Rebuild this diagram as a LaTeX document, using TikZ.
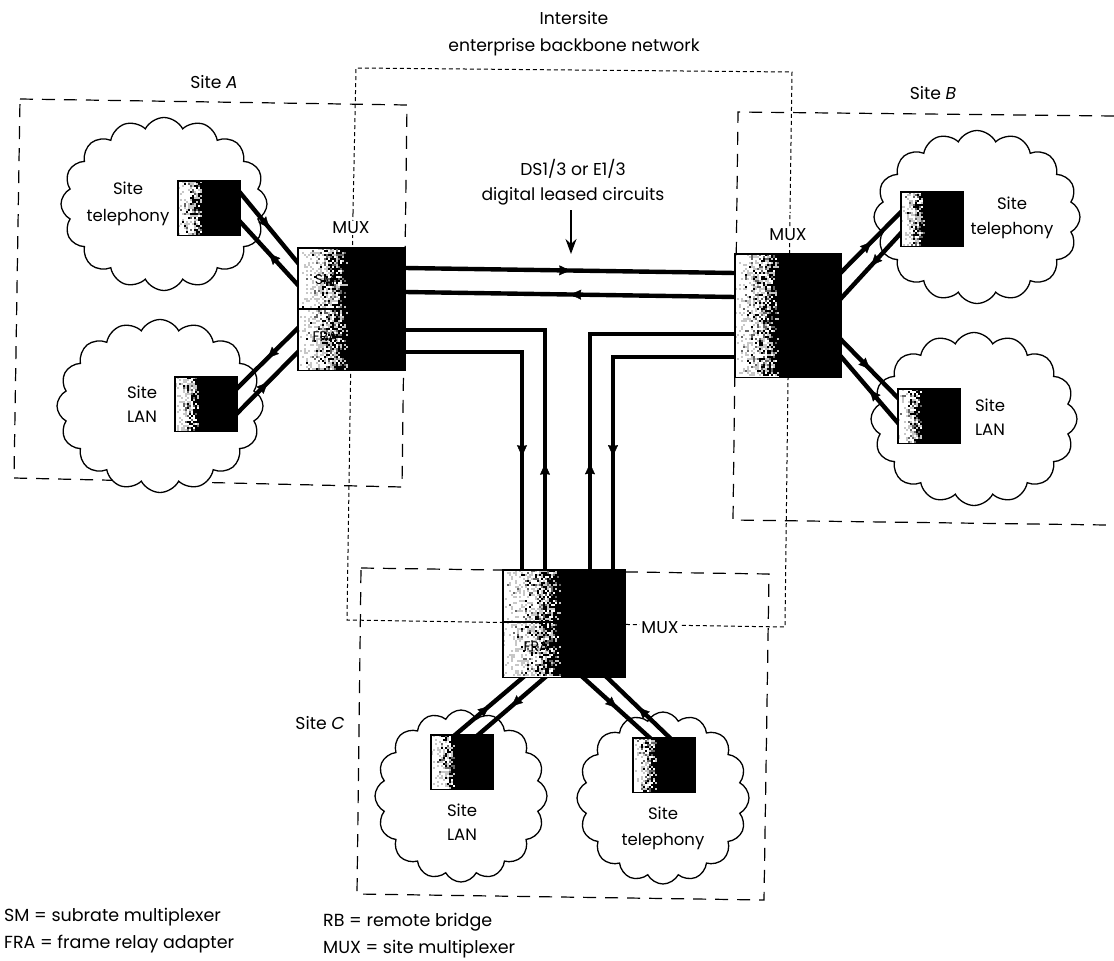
\documentclass[tikz,border=0pt]{standalone}
\usepackage{fontspec}
\setmainfont{Poppins}
\usetikzlibrary{shapes.symbols,decorations.markings,arrows.meta,calc}
\pgfdeclarelayer{under}
\pgfdeclarelayer{links}
\pgfsetlayers{under,links,main}
\tikzset{
  sitebox/.style={draw=black,line width=1.2pt,dash pattern=on 13pt off 9pt},
  netbox/.style={draw=black,line width=1pt,dash pattern=on 4pt off 3pt},
  cloudnode/.style={cloud,draw=black,line width=1.3pt,fill=white,cloud puffs=16,cloud puff arc=125,aspect=1.19,inner sep=0pt},
  smallbox/.style={fill=black,anchor=north west,inner sep=0pt,minimum width=62pt,minimum height=54pt},
  muxbox/.style={fill=black,anchor=north west,inner sep=0pt},
  lbl/.style={font=\fontsize{17.2}{25}\selectfont,align=center,inner sep=1pt},
  cloudlbl/.style={font=\fontsize{16.5}{24}\selectfont,align=center,inner sep=1pt},
  muxlbl/.style={lbl,fill=white},
  inlbl/.style={font=\fontsize{14}{16}\selectfont,inner sep=0pt,text=black},
  legendlbl/.style={font=\fontsize{17.5}{27}\selectfont,align=left,inner sep=0pt,anchor=west},
  link/.style={line width=4.4pt,draw=black,line cap=butt,line join=miter,shorten <=-3pt,shorten >=-3pt},
  fwd/.style={link,postaction={decorate},decoration={markings,mark=at position #1 with {\arrow[line width=0.4pt]{Stealth[length=11pt,width=10pt,inset=1pt]}}}},
  fwd/.default=0.5
}
% speckled light-to-dark face of a box: node, width of the light part, height
\newcommand{\speckle}[3]{%
  \begin{scope}[shift={(#1.north west)}]
    \fill[white] (0,0) rectangle (#2,#3);
    \pgfmathtruncatemacro{\nx}{#2/2}
    \pgfmathtruncatemacro{\ny}{#3/2-1}
    \foreach \i in {0,...,\nx}{
      \pgfmathsetmacro{\tt}{(\i/\nx)}
      \foreach \j in {0,...,\ny}{
        \pgfmathsetmacro{\rr}{rnd}
        \pgfmathtruncatemacro{\vv}{\rr<\tt*\tt*\tt ? 100 : (\rr<\tt*\tt ? 60 : (\rr<\tt+0.06 ? 22 : 0))}
        \ifnum\vv>0
          \fill[black!\vv] (2*\i,2*\j) rectangle +(2,2);
        \fi
      }
    }
  \end{scope}
  \draw[line width=1.6pt] (#1.north west) rectangle (#1.south east);
}
\begin{document}
\begin{tikzpicture}[x=1pt,y=-1pt]
\pgfmathsetseed{4242}
\useasboundingbox (0,0) rectangle (1114,961);
\begin{pgfonlayer}{under}
\fill[white] (0,0) rectangle (1114,961);
% backbone
\draw[netbox] (353,213) -- (356,68) -- (792,72) -- (790,213);
\draw[netbox] (353,213) -- (347,620) -- (785,627) -- (790,213);
% sites
\draw[sitebox] (20,99) -- (407,105) -- (402,487) -- (14,478) -- cycle;
\draw[sitebox] (1114,116) -- (738,112) -- (733,520) -- (1107,525);
\draw[sitebox] (361,568) -- (769,574) -- (764,900) -- (357,894) -- cycle;
% clouds
\node[cloudnode,minimum width=206pt,minimum height=173pt] (cat) at (164,204) {};
\node[cloudnode,minimum width=206pt,minimum height=173pt] (cal) at (160,406) {};
\node[cloudnode,minimum width=206pt,minimum height=173pt] (cbt) at (977,217) {};
\node[cloudnode,minimum width=206pt,minimum height=173pt] (cbl) at (974,419) {};
\node[cloudnode,aspect=1,minimum width=172pt,minimum height=172pt] (ccl) at (461,796) {};
\node[cloudnode,aspect=1,minimum width=172pt,minimum height=172pt] (cct) at (663,798) {};
\end{pgfonlayer}
% boxes
\node[smallbox] (at) at (178,181) {};
\node[smallbox] (al) at (175,377) {};
\node[smallbox] (bt) at (901,192) {};
\node[smallbox] (bl) at (898,389) {};
\node[smallbox] (cl) at (431,735) {};
\node[smallbox] (ct) at (633,738) {};
\node[muxbox,minimum width=107pt,minimum height=122pt] (ma) at (298,248) {};
\node[muxbox,minimum width=106pt,minimum height=123pt] (mb) at (735,254) {};
\node[muxbox,minimum width=122pt,minimum height=107pt] (mc) at (503,570) {};
\speckle{at}{24}{54}
\speckle{al}{24}{54}
\speckle{bt}{24}{54}
\speckle{bl}{24}{54}
\speckle{cl}{24}{54}
\speckle{ct}{24}{54}
\speckle{ma}{50}{122}
\speckle{mb}{44}{123}
\speckle{mc}{58}{107}
\draw[line width=1.4pt] (ma.west |- 0,309) -- (ma.center |- 0,309);
\draw[line width=1.4pt] (mc.west |- 0,622) -- (mc.center |- 0,622);
\node[inlbl] (tsm) at (325,280) {SM};
\node[inlbl] (tfa) at (325,337) {FRA};
\node[inlbl] (tfc) at (536,647) {FRA};
\begin{pgfonlayer}{links}
% site A
\draw[fwd] ([yshift=-12pt]at.north east) -- ([yshift=-15pt]ma.north west);
\draw[fwd] ([yshift=-37pt]ma.north west) -- ([yshift=-41pt]at.north east);
\draw[fwd] ([yshift=-80pt]ma.north west) -- ([yshift=-11pt]al.north east);
\draw[fwd] ([yshift=-36pt]al.north east) -- ([yshift=-104pt]ma.north west);
% site B
\draw[fwd] ([yshift=-18pt]mb.north east) -- ([yshift=-20pt]bt.north west);
\draw[fwd] ([yshift=-41pt]bt.north west) -- ([yshift=-44pt]mb.north east);
\draw[fwd] ([yshift=-86pt]mb.north east) -- ([yshift=-9pt]bl.north west);
\draw[fwd] ([yshift=-34pt]bl.north west) -- ([yshift=-103pt]mb.north east);
% site C
\draw[fwd] ([xshift=24pt]cl.north west) -- ([xshift=20pt]mc.south west);
\draw[fwd] ([xshift=42pt]mc.south west) -- ([xshift=47pt]cl.north west);
\draw[fwd] ([xshift=80pt]mc.south west) -- ([xshift=17pt]ct.north west);
\draw[fwd] ([xshift=37pt]ct.north west) -- ([xshift=104pt]mc.south west);
% backbone circuits
\draw[fwd=0.5] ([yshift=-20pt]ma.north east) -- ([yshift=-19pt]mb.north west);
\draw[fwd=0.5] ([yshift=-43pt]mb.north west) -- ([yshift=-44pt]ma.north east);
\draw[fwd=0.28] ([xshift=42pt]mc.north west) |- ([yshift=-82pt]ma.north east);
\draw[fwd=0.66] ([yshift=-104pt]ma.north east) -| ([xshift=19pt]mc.north west);
\draw[fwd=0.28] ([xshift=87pt]mc.north west) |- ([yshift=-80pt]mb.north west);
\draw[fwd=0.66] ([yshift=-103pt]mb.north west) -| ([xshift=110pt]mc.north west);
\end{pgfonlayer}
% texts
\node[lbl] (title) at (574,33.5) {Intersite\\[2pt]enterprise backbone network};
\node[lbl] (sa) at (214,82) {Site \textit{A}};
\node[lbl] (sb) at (933,93) {Site \textit{B}};
\node[lbl] (sc) at (320,723) {Site \textit{C}};
\node[lbl] (ds) at (573,182.5) {DS1/3 or E1/3\\digital leased circuits};
\coordinate (arrtop) at (571,210);
\coordinate (arrtip) at (571,254);
\draw[-{Stealth[length=15pt,width=11pt]},line width=1.5pt] (arrtop) -- (arrtip);
\node[muxlbl] (la) at (351,228) {MUX};
\node[muxlbl] (lb) at (788,235) {MUX};
\node[muxlbl] (lc) at (660,628) {MUX};
\node[cloudlbl] (tat) at (128,204) {Site\\[3pt]telephony};
\node[cloudlbl] (tal) at (142,404) {Site\\LAN};
\node[cloudlbl] (tbt) at (1012,218) {Site\\[1pt]telephony};
\node[cloudlbl] (tbl) at (990,417) {Site\\LAN};
\node[cloudlbl] (tcl) at (462,822) {Site\\LAN};
\node[cloudlbl] (tct) at (663,828) {Site\\[2pt]telephony};
\node[legendlbl] (leg1) at (4,931) {SM = subrate multiplexer\\FRA = frame relay adapter};
\node[legendlbl] (leg2) at (323,936) {RB = remote bridge\\MUX = site multiplexer};
\end{tikzpicture}
\end{document}
